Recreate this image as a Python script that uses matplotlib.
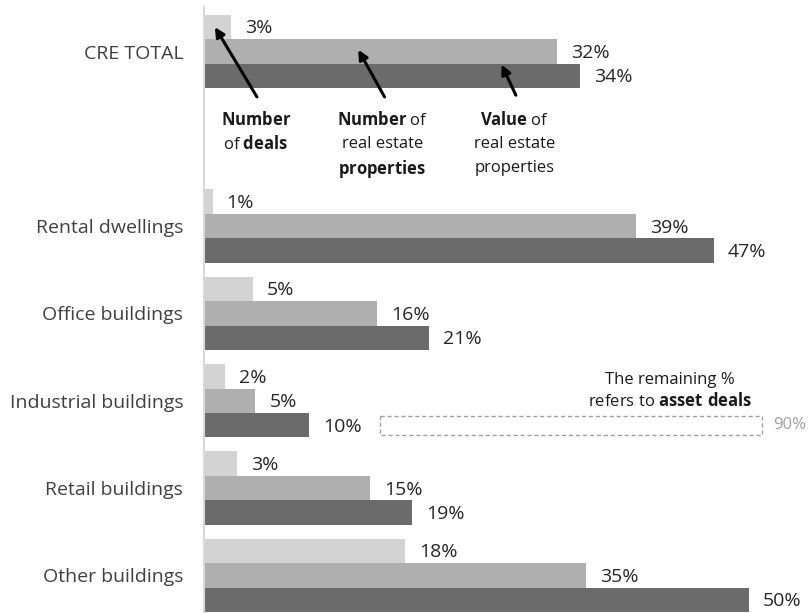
import numpy as np
import matplotlib
matplotlib.use('Agg')
import matplotlib.pyplot as plt
from matplotlib.patches import Rectangle

plt.rcParams['font.family'] = ['Open Sans', 'DejaVu Sans']
plt.rcParams['mathtext.fontset'] = 'custom'
plt.rcParams['mathtext.rm'] = 'Open Sans'
plt.rcParams['mathtext.bf'] = 'Open Sans:bold'

# Datos
categorias = ['CRE TOTAL', 'Rental dwellings', 'Office buildings',
              'Industrial buildings', 'Retail buildings', 'Other buildings']
num_deals = [2.5, 0.8, 4.5, 1.9, 3.0, 18.4]
num_props = [32.3, 39.5, 15.8, 4.7, 15.2, 34.9]
val_props = [34.4, 46.6, 20.6, 9.6, 19.0, 49.8]
lab_deals = ['3%', '1%', '5%', '2%', '3%', '18%']
lab_props = ['32%', '39%', '16%', '5%', '15%', '35%']
lab_val = ['34%', '47%', '21%', '10%', '19%', '50%']
resto_asset = 90

colores = ['#d3d3d3', '#afafaf', '#6b6b6b']

# posiciones de grupo: hueco despues de CRE TOTAL para las notas
idx = np.arange(len(categorias))
pos = idx + (idx > 0)
h = 0.28

fig = plt.figure(figsize=(8.08, 6.13), dpi=100)
ax = fig.add_axes([204 / 808, 0, 604 / 808, 606 / 613])

series = [(num_deals, lab_deals), (num_props, lab_props), (val_props, lab_val)]
for k, (vals, labs) in enumerate(series):
    y = pos + (k - 1) * h
    bars = ax.barh(y, vals, height=h, color=colores[k], edgecolor='none')
    for b, lab in zip(bars, labs):
        ax.annotate(lab, (b.get_width(), b.get_y() + h / 2),
                    xytext=(10, -1), textcoords='offset points',
                    ha='left', va='center', fontsize=14, color='#262626')

ax.set_xlim(0, 55.2)
ax.set_ylim(6.43, -0.51)
ax.set_yticks(pos)
ax.set_yticklabels(categorias, fontsize=14, color='#404040')
ax.tick_params(axis='y', length=0, pad=15)
ax.set_xticks([])
for s in ['top', 'right', 'bottom']:
    ax.spines[s].set_visible(False)
ax.spines['left'].set_color('#d9d9d9')
ax.spines['left'].set_linewidth(1.5)

# Flechas y notas explicativas
flechas = [((1.0, -0.28), (4.84, 0.52)),
           ((14.1, -0.02), (16.5, 0.52)),
           ((27.2, 0.15), (28.5, 0.50))]
for cabeza, cola in flechas:
    ax.annotate('', xy=cabeza, xytext=cola,
                arrowprops=dict(arrowstyle='-|>', color='black', lw=2.2,
                                mutation_scale=14, shrinkA=0, shrinkB=0))

notas = [(4.75, ['$\\mathbf{Number}$', 'of $\\mathbf{deals}$']),
         (16.3, ['$\\mathbf{Number}$ of', 'real estate', '$\\mathbf{properties}$']),
         (28.4, ['$\\mathbf{Value}$ of', 'real estate', 'properties'])]
for x, lineas in notas:
    for i, linea in enumerate(lineas):
        ax.text(x, 0.76 + 0.275 * i, linea, ha='center', va='center_baseline',
                fontsize=12, color='#1a1a1a')

# Recuadro de asset deals
ax.text(42.6, 3.89, 'The remaining %\nrefers to $\\mathbf{asset\\ deals}$',
        ha='center', va='center', fontsize=12, color='#1a1a1a',
        linespacing=1.3)
ax.add_patch(Rectangle((16.1, 4 + h - 0.11), 34.9, 0.22,
                       fill=False, edgecolor='#a0a0a0', linestyle=(0, (3, 2)),
                       lw=1.0))
ax.text(52.0, 4 + h, f'{resto_asset}%', ha='left', va='center',
        fontsize=12, color='#a0a0a0')

fig.savefig('out.png', dpi=100)
